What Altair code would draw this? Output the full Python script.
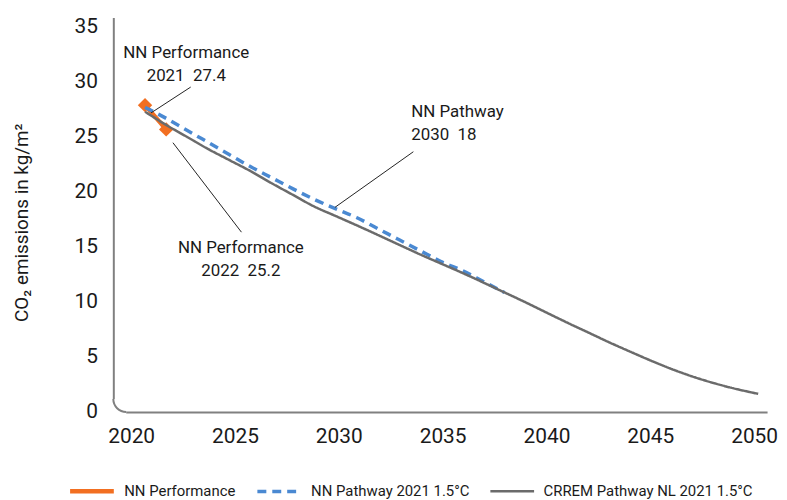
import altair as alt
import pandas as pd

FONT = "Roboto"

# ---- data ----
crrem_years = list(range(2021, 2051))
crrem_values = [26.8, 25.6, 24.5, 23.4, 22.4, 21.4, 20.3, 19.25, 18.2, 17.35,
                16.5, 15.63, 14.74, 13.86, 13.02, 12.18, 11.3, 10.4, 9.5, 8.56,
                7.63, 6.73, 5.83, 4.98, 4.15, 3.38, 2.7, 2.12, 1.62, 1.2]

pathway_years = list(range(2021, 2039))
pathway_values = [27.2, 26.2, 25.1, 24.0, 22.9, 21.8, 20.8, 19.8, 18.85, 18.0,
                  17.2, 16.2, 15.2, 14.2, 13.2, 12.4, 11.4, 10.4]

perf_years = [2021, 2022]
perf_values = [27.4, 25.2]

series_names = ["NN Performance", "NN Pathway 2021 1.5°C", "CRREM Pathway NL 2021 1.5°C"]
series_colors = ["#F26F21", "#4A89D2", "#6B6B6B"]
series_dashes = [[1, 0], [9, 6], [1, 0]]
series_widths = [4.5, 2.5, 2.5]

x_ticks = [2020, 2025, 2030, 2035, 2040, 2045, 2050]
y_ticks = [0, 5, 10, 15, 20, 25, 30, 35]

# annotations (text, anchor year, anchor value of first line) and leader lines
ann_center_text = ["NN Performance\n2021\u00a0\u00a027.4", "NN Performance\n2022\u00a0\u00a025.2"]
ann_center_x = [2022.95, 2025.53]
ann_center_y = [32.1, 14.43]
ann_left_text = ["NN Pathway\n2030\u00a0\u00a018"]
ann_left_x = [2033.59]
ann_left_y = [26.78]
lead_x1 = [2023.16, 2022.32, 2033.69]
lead_y1 = [29.04, 23.99, 23.17]
lead_x2 = [2021.28, 2025.56, 2029.98]
lead_y2 = [26.69, 15.87, 18.12]

# ---- frames ----
lines_df = pd.concat([
    pd.DataFrame({"year": perf_years, "value": perf_values, "series": series_names[0]}),
    pd.DataFrame({"year": pathway_years, "value": pathway_values, "series": series_names[1]}),
    pd.DataFrame({"year": crrem_years, "value": crrem_values, "series": series_names[2]}),
], ignore_index=True)
perf_df = pd.DataFrame({"year": perf_years, "value": perf_values})
ann_c_df = pd.DataFrame({"text": ann_center_text, "year": ann_center_x, "value": ann_center_y})
ann_l_df = pd.DataFrame({"text": ann_left_text, "year": ann_left_x, "value": ann_left_y})
lead_df = pd.DataFrame({"x1": lead_x1, "y1": lead_y1, "x2": lead_x2, "y2": lead_y2})

xscale = alt.Scale(domain=[2019.5, 2050.42], nice=False, zero=False)
yscale = alt.Scale(domain=[-0.45, 35.35], nice=False, zero=False)

AXIS_GREY = "#808080"

xaxis = alt.Axis(values=x_ticks, format="d", grid=False, ticks=False,
                 domainColor=AXIS_GREY, domainWidth=2, labelFontSize=21,
                 labelFont=FONT, labelColor="#1a1a1a", labelPadding=14,
                 labelOffset=alt.ExprRef(expr="1.6 - (datum.value - 2035) * 0.38"),
                 title=None)
yaxis = alt.Axis(values=y_ticks, grid=False, ticks=False,
                 domainColor=AXIS_GREY, domainWidth=2, labelFontSize=21,
                 labelFont=FONT, labelColor="#1a1a1a", labelPadding=16,
                 labelOffset=5, title="CO₂ emissions in kg/m²",
                 titleFont=FONT, titleFontSize=19, titleFontWeight="normal",
                 titleColor="#1a1a1a", titleX=-92, titleY=206,
                 titleAngle=270, titleBaseline="middle", titleAlign="center")

legend = alt.Legend(title=None, orient="none", legendX=-46, legendY=452,
                    direction="horizontal", symbolType="stroke", symbolSize=1936,
                    labelFont=FONT, labelFontSize=15, labelColor="#1a1a1a",
                    labelLimit=400, labelOffset=8, columnPadding=15, padding=0)

x_enc = alt.X("year:Q", scale=xscale, axis=xaxis)
y_enc = alt.Y("value:Q", scale=yscale, axis=yaxis)
color_enc = alt.Color("series:N", scale=alt.Scale(domain=series_names, range=series_colors),
                      legend=legend, sort=series_names)
dash_enc = alt.StrokeDash("series:N", scale=alt.Scale(domain=series_names, range=series_dashes),
                          legend=legend, sort=series_names)
width_enc = alt.StrokeWidth("series:N", scale=alt.Scale(domain=series_names, range=series_widths),
                            legend=legend, sort=series_names)

def series_layer(name):
    return alt.Chart(lines_df).transform_filter(
        alt.datum.series == name
    ).mark_line(interpolate="monotone").encode(
        x=x_enc, y=y_enc, color=color_enc, strokeDash=dash_enc, strokeWidth=width_enc
    )

perf_line = series_layer(series_names[0])
perf_pts = alt.Chart(perf_df).mark_point(shape="diamond", filled=True, size=210,
                                         opacity=1, color=series_colors[0]).encode(
    x=alt.X("year:Q", scale=xscale), y=alt.Y("value:Q", scale=yscale))
path_line = series_layer(series_names[1])
crrem_line = series_layer(series_names[2])

leaders = alt.Chart(lead_df).mark_rule(color="#222222", strokeWidth=1).encode(
    x=alt.X("x1:Q", scale=xscale), y=alt.Y("y1:Q", scale=yscale),
    x2="x2:Q", y2="y2:Q")

txt_c = alt.Chart(ann_c_df).mark_text(align="center", baseline="middle", lineBreak="\n",
                                      lineHeight=23, font=FONT, fontSize=17,
                                      color="#1a1a1a").encode(
    x=alt.X("year:Q", scale=xscale), y=alt.Y("value:Q", scale=yscale), text="text:N")
txt_l = alt.Chart(ann_l_df).mark_text(align="left", baseline="middle", lineBreak="\n",
                                      lineHeight=23, font=FONT, fontSize=17,
                                      color="#1a1a1a").encode(
    x=alt.X("year:Q", scale=xscale), y=alt.Y("value:Q", scale=yscale), text="text:N")

# rounded bottom-left corner of the axis frame (decoration)
corner_mask = alt.Chart(perf_df).transform_filter(alt.datum.year == 2021).mark_rect(
    color="white").encode(x=alt.value(-2), x2=alt.value(13), y=alt.value(384), y2=alt.value(400))
corner_arc = alt.Chart(perf_df).transform_filter(alt.datum.year == 2021).mark_arc(
    innerRadius=12, outerRadius=14, theta=3.14159, theta2=4.71239, color=AXIS_GREY
).encode(x=alt.value(13), y=alt.value(384))

chart = alt.layer(perf_line, perf_pts, path_line, crrem_line, leaders, txt_c, txt_l,
                  corner_mask, corner_arc).properties(
    width=658, height=397,
    autosize=alt.AutoSizeParams(type="none"),
    padding={"left": 106, "top": 8, "right": 12, "bottom": 90},
    background="white",
).configure_view(stroke=None)

chart.save("out.html", embed_options={"renderer": "svg", "actions": False})
